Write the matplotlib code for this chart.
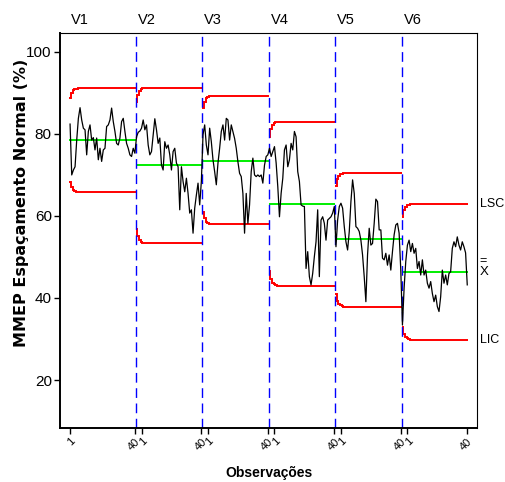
import numpy as np
import matplotlib
matplotlib.use("Agg")
import matplotlib.pyplot as plt

# ─── data ────────────────────────────────────────────────────────────────────
stages = ["V1", "V2", "V3", "V4", "V5", "V6"]
n_obs = 40

v1 = [82.4, 70.0, 71.2, 72.0, 78.5, 83.8, 86.4, 83.4, 81.4, 81.0,
      74.9, 80.6, 82.2, 78.5, 79.1, 76.1, 79.0, 73.7, 76.5, 73.3,
      76.1, 76.5, 81.8, 82.2, 83.4, 86.3, 83.0, 80.6, 77.7, 77.3,
      79.0, 83.0, 83.8, 80.6, 77.7, 76.5, 74.9, 74.5, 76.5, 75.3]
v2 = [79.3, 80.4, 80.7, 81.4, 83.4, 81.0, 82.2, 77.3, 74.9, 75.7,
      79.8, 83.7, 81.0, 77.7, 79.0, 72.4, 71.2, 78.1, 76.5, 77.3,
      74.9, 71.2, 75.7, 76.5, 72.9, 72.0, 61.5, 72.0, 68.4, 65.9,
      69.2, 65.5, 60.7, 61.5, 55.8, 61.9, 65.1, 68.0, 62.7, 68.4]
v3 = [79.8, 82.2, 77.3, 74.9, 81.4, 78.1, 73.7, 70.8, 67.6, 72.9,
      76.5, 80.6, 82.2, 78.5, 83.8, 83.4, 78.5, 82.2, 80.6, 78.9,
      76.5, 73.2, 70.4, 69.6, 65.5, 55.8, 65.5, 58.2, 62.7, 70.8,
      74.1, 70.0, 69.6, 70.0, 69.6, 70.0, 68.0, 72.4, 74.5, 74.9]
v4 = [76.5, 74.5, 75.7, 76.9, 72.9, 67.1, 59.8, 65.5, 69.2, 76.1,
      77.3, 72.0, 73.7, 77.7, 76.1, 80.6, 79.3, 70.8, 68.4, 62.7,
      62.4, 62.3, 47.2, 51.3, 45.2, 43.2, 46.0, 50.1, 53.7, 61.5,
      45.2, 59.0, 59.8, 58.2, 54.1, 59.0, 59.4, 59.8, 60.7, 62.3]
v5 = [52.5, 59.0, 62.3, 63.1, 61.9, 57.4, 53.7, 51.7, 56.2, 63.5,
      68.8, 65.5, 57.4, 57.0, 56.2, 54.1, 50.5, 45.2, 39.1, 50.5,
      57.0, 52.9, 53.3, 58.2, 64.1, 63.5, 56.6, 56.6, 49.7, 49.3,
      50.9, 48.0, 50.5, 46.8, 51.3, 55.4, 57.8, 58.2, 55.8, 46.8]
v6 = [33.4, 42.4, 48.9, 52.9, 54.1, 51.3, 53.3, 50.9, 52.1, 47.2,
      48.9, 45.6, 49.3, 45.6, 46.8, 43.6, 42.4, 44.0, 41.1, 39.1,
      40.7, 37.9, 36.7, 40.3, 46.8, 43.6, 45.6, 43.2, 46.0, 46.4,
      52.1, 53.7, 52.5, 54.9, 52.9, 51.7, 53.7, 52.5, 51.0, 43.2]

center = [78.5, 72.4, 73.5, 62.9, 54.3, 46.3]   # X double bar per stage
lsc = [91.1, 91.3, 89.3, 83.0, 70.5, 62.9]      # upper limit
lic = [65.8, 53.3, 58.0, 42.9, 37.9, 29.8]      # lower limit
# share of the full limit width over the first points of each stage
ramp = [0.81, 0.91, 0.96, 0.98, 0.99]

font = "Liberation Sans"

# ─── figure ──────────────────────────────────────────────────────────────────
fig, ax = plt.subplots(figsize=(5.05, 4.82), dpi=100)
fig.subplots_adjust(left=0.119, right=0.945, bottom=0.112, top=0.9315)

series = [v1, v2, v3, v4, v5, v6]
all_x, all_y = [], []
for k, vals in enumerate(series):
    x = np.arange(1, n_obs + 1) + k * n_obs
    edges = np.arange(n_obs + 1) + k * n_obs + 0.5
    frac = np.ones(n_obs)
    frac[:len(ramp)] = ramp
    up = center[k] + (lsc[k] - center[k]) * frac
    lo = center[k] - (center[k] - lic[k]) * frac
    ax.stairs(up, edges, baseline=None, color="red", lw=1.4)
    ax.stairs(lo, edges, baseline=None, color="red", lw=1.4)
    ax.hlines(center[k], edges[0], edges[-1], color="#00ee00", lw=1.4)
    all_x.extend(x)
    all_y.extend(vals)
    ax.text(k * n_obs + 7, 1.033, stages[k], transform=ax.get_xaxis_transform(),
            ha="center", va="center", fontsize=10.5, family=font)
    if k > 0:
        ax.axvline(k * n_obs + 0.5, color="blue", lw=1.0, dashes=(7, 4))

ax.plot(all_x, all_y, color="black", lw=0.9)

# right-hand labels
ytr = ax.get_yaxis_transform()
ax.text(1.006, lsc[-1], "LSC", transform=ytr, ha="left", va="center",
        fontsize=9, family=font, clip_on=False)
ax.text(1.006, center[-1], "X", transform=ytr, ha="left", va="center",
        fontsize=9.5, family=font, clip_on=False)
ax.annotate("=", (1.006, center[-1]), xycoords=ytr, xytext=(0, 8),
            textcoords="offset points", ha="left", va="center",
            fontsize=9, family=font, annotation_clip=False)
ax.text(1.006, lic[-1], "LIC", transform=ytr, ha="left", va="center",
        fontsize=9, family=font, clip_on=False)

# axes
ax.set_xlim(-5, 246)
ax.set_ylim(8.3, 104.6)
ax.set_yticks([20, 40, 60, 80, 100])
ticks, labels = [1], ["1"]
for k in range(len(stages)):
    ticks.append((k + 1) * n_obs)
    labels.append("40")
    if k < len(stages) - 1:
        ticks.append((k + 1) * n_obs + 4)
        labels.append("1")
ax.set_xticks(ticks)
ax.set_xticklabels(labels, rotation=45, ha="right", va="top",
                   rotation_mode="anchor", fontsize=8, family=font)
for lab in ax.get_yticklabels():
    lab.set_family(font)
    lab.set_fontsize(11)
ax.tick_params(direction="out", length=4, width=1, pad=2)

ax.set_xlabel("Observações", fontsize=10, fontweight="bold", family=font)
ax.xaxis.set_label_coords(0.5, -0.095)
ax.set_ylabel("MMEP Espaçamento Normal (%)", fontsize=11.5, fontweight="bold",
              family="DejaVu Sans")
ax.yaxis.set_label_coords(-0.075, 0.57)

for side in ["left", "bottom"]:
    ax.spines[side].set_linewidth(1.4)

plt.savefig("out.png", dpi=100)
plt.close(fig)
